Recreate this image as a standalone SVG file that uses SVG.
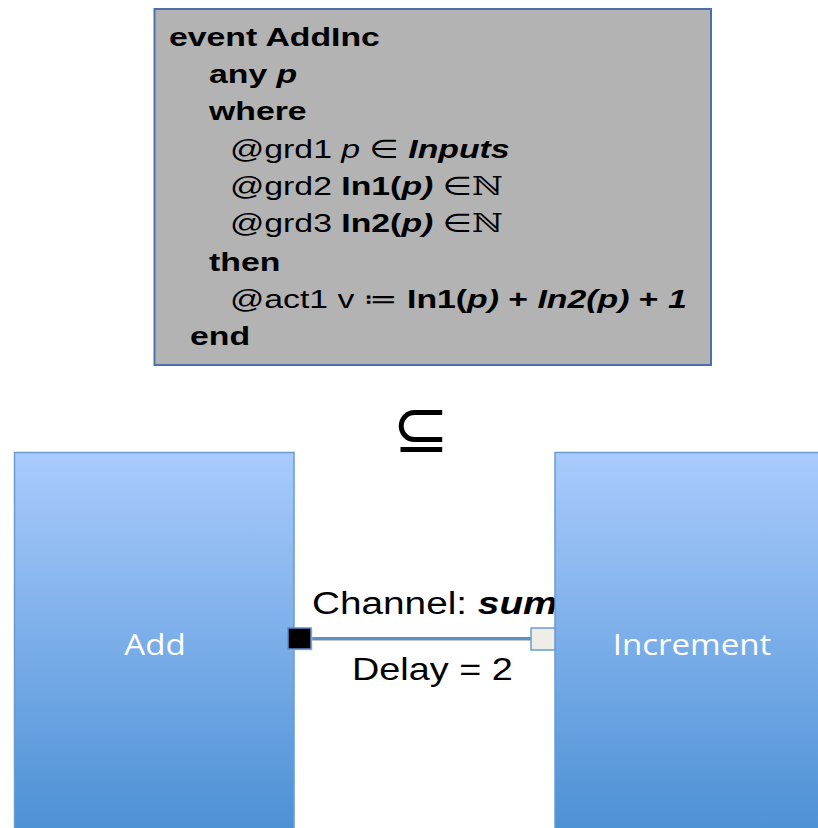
<svg xmlns="http://www.w3.org/2000/svg" width="818" height="828" viewBox="0 0 818 828">
<defs>
<linearGradient id="blueGrad" gradientUnits="userSpaceOnUse" x1="0" y1="452" x2="0" y2="828">
<stop offset="0" stop-color="#a9cbfd"/>
<stop offset="1" stop-color="#4d91d5"/>
</linearGradient>
<style>
.code{font-family:"Liberation Sans","DejaVu Sans",sans-serif;font-size:26px;fill:#000}
.b{font-weight:bold}
.i{font-style:italic}
.nat{font-family:"DejaVu Serif",serif;font-weight:normal;font-style:normal}
.lbl{font-family:"Liberation Sans","DejaVu Sans",sans-serif;font-size:31px;fill:#000}
.node-rect{fill:url(#blueGrad);stroke:#6a9ad2;stroke-width:1.5}
.node-txt{font-family:"Open Sans","DejaVu Sans",sans-serif;font-size:29px;fill:#fff;text-anchor:middle}
</style>
</defs>
<rect width="818" height="828" fill="#fff"/>

<g id="event-box">
<rect x="154.5" y="9" width="556.5" height="356" fill="#b3b3b3" stroke="#4a72a8" stroke-width="2"/>
<text class="code b" transform="matrix(1.3 0 0 1 169 46)">event AddInc</text>
<text class="code b" transform="matrix(1.3 0 0 1 209 83)">any <tspan class="i">p</tspan></text>
<text class="code b" transform="matrix(1.3 0 0 1 209 120)">where</text>
<text class="code" transform="matrix(1.3 0 0 1 230 158)">@grd1 <tspan class="i">p</tspan> ∈ <tspan class="b i">Inputs</tspan></text>
<text class="code" transform="matrix(1.3 0 0 1 230 195)">@grd2 <tspan class="b">In1(</tspan><tspan class="b i">p)</tspan> ∈<tspan class="nat">ℕ</tspan></text>
<text class="code" transform="matrix(1.3 0 0 1 230 232)">@grd3 <tspan class="b">In2(</tspan><tspan class="b i">p)</tspan> ∈<tspan class="nat">ℕ</tspan></text>
<text class="code b" transform="matrix(1.3 0 0 1 209 271)">then</text>
<text class="code" transform="matrix(1.3 0 0 1 230 308)">@act1 v ≔ <tspan class="b">In1(</tspan><tspan class="b i">p)</tspan><tspan class="b"> + </tspan><tspan class="b i">In2(p)</tspan><tspan class="b"> + </tspan><tspan class="b i">1</tspan></text>
<text class="code b" transform="matrix(1.3 0 0 1 190 345)">end</text>
</g>

<g id="subset-symbol">
<text x="421" y="452" font-family="DejaVu Sans,sans-serif" font-size="68" text-anchor="middle" fill="#000">⊆</text>
</g>

<g id="node-add">
<rect class="node-rect" x="14.5" y="452.5" width="279.5" height="390"/>
<text class="node-txt" transform="matrix(1.14 0 0 1 155 655)">Add</text>
</g>

<g id="connectors">
<line x1="312" y1="640" x2="531" y2="640" stroke="#c8c8c8" stroke-width="2"/>
<line x1="312" y1="638.5" x2="531" y2="638.5" stroke="#5b8fcd" stroke-width="3"/>
<text class="lbl" transform="matrix(1.25 0 0 1 312 614)">Channel: <tspan font-weight="bold" font-style="italic">sum</tspan></text>
<text class="lbl" transform="matrix(1.22 0 0 1 352 680)">Delay = 2</text>
<rect x="289.5" y="629.5" width="23" height="21" fill="#c8c8c8" opacity="0.6"/>
<rect x="288" y="628" width="23" height="21" fill="#000" stroke="#5b8fcd" stroke-width="1.5"/>
</g>

<g id="node-increment">
<rect class="node-rect" x="555" y="452.5" width="280" height="390"/>
<text class="node-txt" transform="matrix(1.14 0 0 1 692 655)">Increment</text>
</g>

<g id="port-in">
<rect x="531" y="628" width="24" height="22" fill="#eeede6" stroke="#6a9ad2" stroke-width="1.5"/>
</g>
</svg>
